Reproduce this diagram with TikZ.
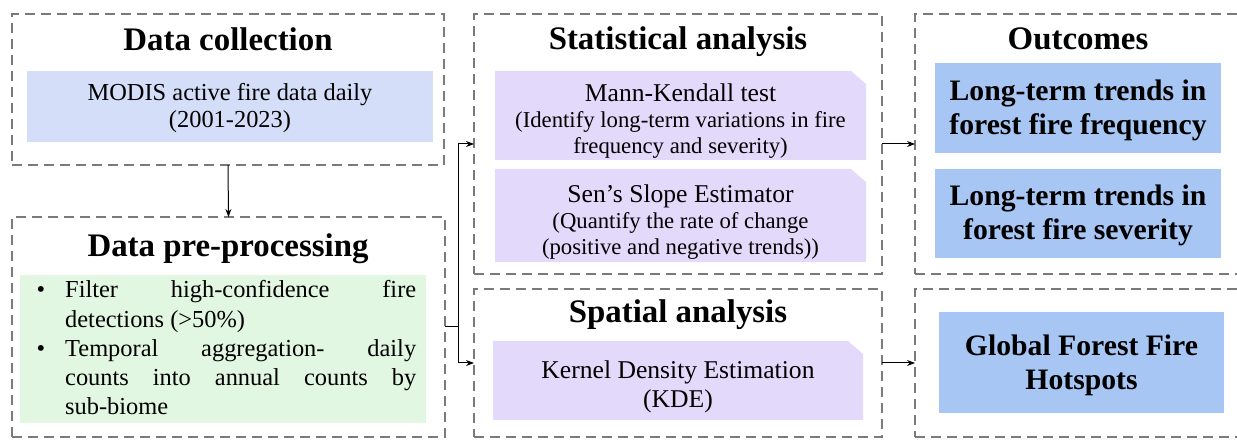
\documentclass[tikz,border=0pt]{standalone}
\usepackage{fontspec}
\setmainfont{Liberation Serif}
\usetikzlibrary{arrows.meta,fit}
\definecolor{dashgray}{HTML}{7A7A7A}
\definecolor{lightblue}{HTML}{D5DEF9}
\definecolor{greenc}{HTML}{E2F7E2}
\definecolor{purp}{HTML}{E3D9FA}
\definecolor{outblue}{HTML}{A8C6F3}
\begin{document}
\begin{tikzpicture}[x=1bp,y=-1bp,
  outer/.style={draw=dashgray, line width=2.5bp, dash pattern=on 10bp off 6bp, inner sep=0pt, outer sep=0pt},
  ttl/.style={font=\bfseries\fontsize{33}{38}\selectfont, anchor=base, inner sep=0pt},
  txt/.style={anchor=base, inner sep=0pt, align=center},
  bluebox/.style={fill=lightblue, inner sep=0pt},
  outbox/.style={fill=outblue, inner sep=0pt},
  outtxt/.style={txt, font=\bfseries\fontsize{29.8}{34.5}\selectfont},
  purptxt/.style={txt, font=\fontsize{22.8}{26.5}\selectfont},
  purpbox/.style={inner sep=0pt,
    path picture={\fill[purp] (path picture bounding box.south west) -- (path picture bounding box.north west)
      -- ([xshift=-15bp]path picture bounding box.north east) -- ([yshift=-13bp]path picture bounding box.north east)
      -- (path picture bounding box.south east) -- cycle;}},
  arr/.style={-{Stealth[length=8bp,width=6bp]}, line width=1bp, black}]
\useasboundingbox (0,0) rectangle (1237,441);

% outer dashed frames
\node[outer, fit={(12,14) (444,165)}] (dc) {};
\node[outer, fit={(12,217) (445,437)}] (pp) {};
\node[outer, fit={(474,14) (882,274)}] (sa) {};
\node[outer, fit={(474,289) (882,437)}] (sp) {};
\node[outer, fit={(915,14) (1242,274)}] (oc) {};
\node[outer, fit={(915,289) (1242,437)}] (hs) {};

% titles
\node[ttl] (tdc) at (228,51) {Data collection};
\node[ttl] (tpp) at (228,257) {Data pre-processing};
\node[ttl] (tsa) at (678,50) {Statistical analysis};
\node[ttl] (tsp) at (678,323) {Spatial analysis};
\node[ttl] (toc) at (1078,50) {Outcomes};

% inner boxes (text nodes anchored at the baseline of their last line)
\node[bluebox, fit={(27,71) (433,142)}] (modis) {};
\node[txt, font=\fontsize{24.5}{28}\selectfont] (modist) at (modis.center |- 0,128) {MODIS active fire data daily\\(2001-2023)};

\node[fill=greenc, inner sep=0pt, fit={(20,275) (426,423)}] (green) {};
\node[anchor=base west, inner sep=0pt, text width=386bp, align=justify,
  font=\fontsize{24.5}{29.25}\selectfont] (greent) at (30,298) {%
  \hangindent=35bp\hangafter=0\noindent\llap{\textbullet\hspace{20bp}}Filter high-confidence fire\linebreak detections (>50\%)\par
  \hangindent=35bp\hangafter=0\noindent\llap{\textbullet\hspace{20bp}}Temporal aggregation- daily\linebreak counts into annual counts by\linebreak sub-biome\par};

\node[purpbox, fit={(495,71) (866,160)}] (mk) {};
\node[purptxt] (mkt) at (mk.center |- 0,154) {{\fontsize{25.7}{26.5}\selectfont Mann-Kendall test}\\(Identify long-term variations in fire\\frequency and severity)};
\node[purpbox, fit={(495,169) (866,262)}] (ss) {};
\node[purptxt] (sst) at (ss.center |- 0,255) {{\fontsize{25.7}{26.5}\selectfont Sen’s Slope Estimator}\\(Quantify the rate of change\\(positive and negative trends))};
\node[purpbox, fit={(493,341) (863,420)}] (kde) {};
\node[txt, font=\fontsize{25.7}{30}\selectfont] (kdet) at (kde.center |- 0,408) {Kernel Density Estimation\\(KDE)};

\node[outbox, fit={(935,63) (1221,153)}] (o1) {};
\node[outtxt] (o1t) at (o1.center |- 0,135) {Long-term trends in\\forest fire frequency};
\node[outbox, fit={(935,169) (1221,258)}] (o2) {};
\node[outtxt] (o2t) at (o2.center |- 0,240) {Long-term trends in\\forest fire severity};
\node[outbox, fit={(939,312) (1224,413)}] (o3) {};
\node[outtxt] (o3t) at (o3.center |- 0,390) {Global Forest Fire\\Hotspots};

% connectors
\draw[arr] (dc.south) -- (pp.north);
\coordinate (j) at (458,327);
\draw[line width=1bp] (pp.east) -- (j);
\draw[arr] (j) |- (sa.west);
\draw[arr] (j) |- (sp.west);
\draw[arr] (sa.east) -- (oc.west);
\draw[arr] (sp.east) -- (hs.west);
\end{tikzpicture}
\end{document}
